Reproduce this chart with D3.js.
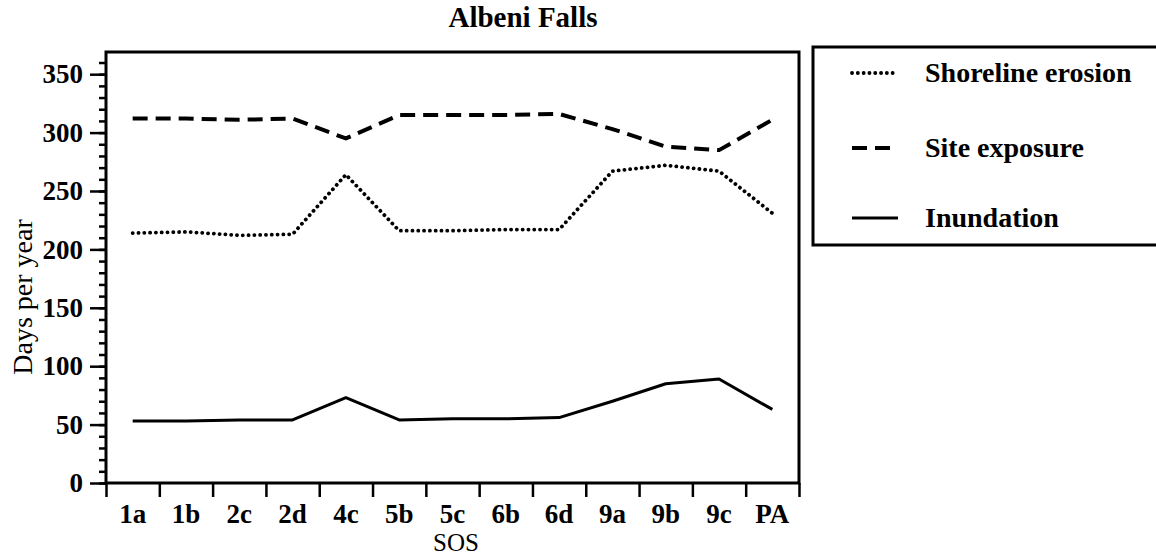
<!DOCTYPE html>
<html>
<head>
  <title>Albeni Falls</title>
  <script src="https://d3js.org/d3.v7.min.js"></script>
  <style>
    body { margin: 0; background: #fff; }
    svg, svg text { font-family: "Liberation Serif", "Times New Roman", serif; }
    .tick line, .domain { stroke: #000; stroke-width: 2.5px; }
    .ticklab text { font-size: 27px; font-weight: bold; fill: #000; }
    .series { fill: none; stroke: #000; }
    .frame { fill: none; stroke: #000; stroke-width: 3px; }
  </style>
</head>
<body>
  <script>
    var width = 1156,
        height = 558;

    var categories = ["1a", "1b", "2c", "2d", "4c", "5b", "5c", "6b", "6d", "9a", "9b", "9c", "PA"];
    var shorelineErosion = [214, 215, 212, 213, 264, 216, 216, 217, 217, 267, 272, 267, 231];
    var siteExposure = [312, 312, 311, 312, 295, 315, 315, 315, 316, 303, 288, 285, 311];
    var inundation = [53, 53, 54, 54, 73, 54, 55, 55, 56, 70, 85, 89, 63];
    var yMajorTicks = [0, 50, 100, 150, 200, 250, 300, 350];
    var yMinorTicks = d3.range(0, 361, 10);

    var series = [
      {name: "Shoreline erosion", values: shorelineErosion, dash: "0.1 5.7", width: 3.8, cap: "round"},
      {name: "Site exposure", values: siteExposure, dash: "15 8", width: 4, cap: "butt"},
      {name: "Inundation", values: inundation, dash: null, width: 3, cap: "butt"}
    ];

    var plotLeft = 106, plotRight = 799, plotTop = 52, plotBottom = 483;

    var svg = d3.select("body").append("svg")
        .attr("width", width)
        .attr("height", height);

    var x = d3.scaleBand().domain(categories).range([plotLeft, plotRight]);
    var xi = d3.scaleLinear().domain([0, categories.length]).range([plotLeft, plotRight]);
    var y = d3.scaleLinear().domain([0, 369]).range([plotBottom, plotTop]);

    // title
    svg.append("text")
        .attr("x", 523).attr("y", 27)
        .attr("text-anchor", "middle")
        .style("font-size", "29px").style("font-weight", "bold")
        .text("Albeni Falls");

    // minor y ticks
    svg.append("g")
        .attr("transform", "translate(" + plotLeft + ",0)")
        .call(d3.axisLeft(y).tickValues(yMinorTicks).tickSize(7).tickFormat(""))
        .call(function(g) { g.select(".domain").remove(); });

    // major y ticks
    svg.append("g")
        .attr("class", "ticklab")
        .attr("transform", "translate(" + plotLeft + ",0)")
        .call(d3.axisLeft(y).tickValues(yMajorTicks).tickSize(16).tickPadding(7))
        .call(function(g) { g.select(".domain").remove(); g.attr("font-family", null).attr("font-size", null); });

    // x ticks at band edges
    svg.append("g")
        .attr("transform", "translate(0," + plotBottom + ")")
        .call(d3.axisBottom(xi).tickValues(d3.range(0, categories.length + 1)).tickSize(14).tickFormat(""))
        .call(function(g) { g.select(".domain").remove(); });

    // x labels
    svg.append("g")
        .attr("class", "ticklab")
        .attr("transform", "translate(0," + plotBottom + ")")
        .call(d3.axisBottom(x).tickSize(0).tickPadding(21))
        .call(function(g) { g.select(".domain").remove(); g.attr("font-family", null).attr("font-size", null); });

    // plot frame
    svg.append("rect")
        .attr("class", "frame")
        .attr("x", plotLeft).attr("y", plotTop)
        .attr("width", plotRight - plotLeft).attr("height", plotBottom - plotTop);

    // axis titles
    svg.append("text")
        .attr("x", 456).attr("y", 551)
        .attr("text-anchor", "middle")
        .style("font-size", "25px")
        .text("SOS");

    svg.append("text")
        .attr("transform", "translate(32,297) rotate(-90)")
        .attr("text-anchor", "middle")
        .style("font-size", "28px")
        .text("Days per year");

    var line = d3.line()
        .x(function(d, i) { return x(categories[i]) + x.bandwidth() / 2; })
        .y(function(d) { return y(d); });

    svg.selectAll(".series")
        .data(series)
        .enter().append("path")
        .attr("class", "series")
        .attr("d", function(d) { return line(d.values); })
        .attr("stroke-width", function(d) { return d.width; })
        .attr("stroke-dasharray", function(d) { return d.dash; })
        .attr("stroke-linecap", function(d) { return d.cap; })
        .attr("stroke-linejoin", "round");

    // legend
    svg.append("rect")
        .attr("class", "frame")
        .attr("x", 813).attr("y", 47)
        .attr("width", 360).attr("height", 198);

    var item = svg.selectAll(".legitem")
        .data(series)
        .enter().append("g")
        .attr("class", "legitem")
        .attr("transform", function(d, i) { return "translate(0," + [73, 148, 218][i] + ")"; });

    item.append("line")
        .attr("x1", 852).attr("x2", 898)
        .attr("stroke", "#000")
        .attr("stroke-width", function(d) { return d.width; })
        .attr("stroke-dasharray", function(d) { return d.dash; })
        .attr("stroke-linecap", function(d) { return d.cap; });

    item.append("text")
        .attr("x", 925).attr("dy", "0.33em")
        .style("font-size", "28px").style("font-weight", "bold")
        .text(function(d) { return d.name; });
  </script>
</body>
</html>
